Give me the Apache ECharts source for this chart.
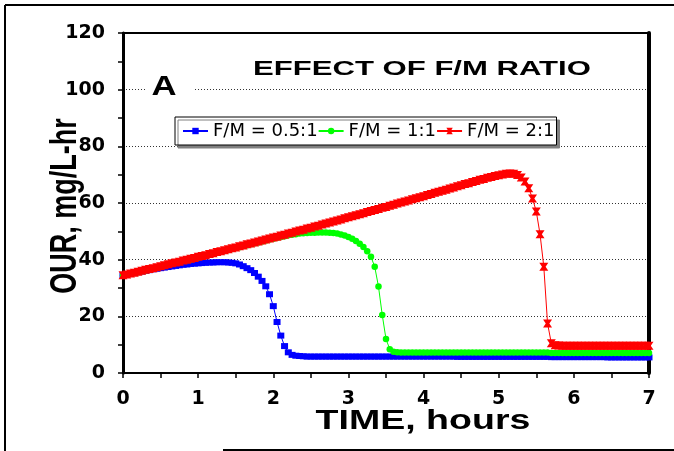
<!DOCTYPE html>
<html>
<head>
<meta charset="utf-8">
<script src="https://cdn.jsdelivr.net/npm/echarts@6/dist/echarts.min.js"></script>
<style>
  html, body { margin: 0; padding: 0; background: #fff; }
  #chart { width: 674px; height: 451px; }
</style>
</head>
<body>
<div id="chart"></div>
<script>
// tempo (horas)
const time = [
  0, 0.05, 0.1, 0.15, 0.2, 0.25, 0.3, 0.35, 0.4, 0.45, 0.5, 0.55, 0.6, 0.65, 0.7, 0.75, 0.8, 0.85, 0.9, 0.95,
  1, 1.05, 1.1, 1.15, 1.2, 1.25, 1.3, 1.35, 1.4, 1.45, 1.5, 1.55, 1.6, 1.65, 1.7, 1.75, 1.8, 1.85, 1.9, 1.95,
  2, 2.05, 2.1, 2.15, 2.2, 2.25, 2.3, 2.35, 2.4, 2.45, 2.5, 2.55, 2.6, 2.65, 2.7, 2.75, 2.8, 2.85, 2.9, 2.95,
  3, 3.05, 3.1, 3.15, 3.2, 3.25, 3.3, 3.35, 3.4, 3.45, 3.5, 3.55, 3.6, 3.65, 3.7, 3.75, 3.8, 3.85, 3.9, 3.95,
  4, 4.05, 4.1, 4.15, 4.2, 4.25, 4.3, 4.35, 4.4, 4.45, 4.5, 4.55, 4.6, 4.65, 4.7, 4.75, 4.8, 4.85, 4.9, 4.95,
  5, 5.05, 5.1, 5.15, 5.2, 5.25, 5.3, 5.35, 5.4, 5.45, 5.5, 5.55, 5.6, 5.65, 5.7, 5.75, 5.8, 5.85, 5.9, 5.95,
  6, 6.05, 6.1, 6.15, 6.2, 6.25, 6.3, 6.35, 6.4, 6.45, 6.5, 6.55, 6.6, 6.65, 6.7, 6.75, 6.8, 6.85, 6.9, 6.95,
  7
];

// OUR, F/M = 0.5:1
const fm05 = [
  34.5, 34.8, 35.0, 35.3, 35.6, 35.8, 36.1, 36.3, 36.6, 36.8, 37.0, 37.2, 37.4, 37.6, 37.8, 38.0, 38.2, 38.3, 38.5, 38.6,
  38.7, 38.8, 38.9, 39.0, 39.0, 39.1, 39.1, 39.1, 39.0, 38.9, 38.7, 38.3, 37.7, 37.0, 36.3, 35.3, 34.0, 32.5, 30.6, 27.8,
  23.6, 18.0, 13.2, 9.5, 7.3, 6.4, 6.1, 6.0, 5.9, 5.8, 5.8, 5.8, 5.8, 5.8, 5.8, 5.8, 5.8, 5.8, 5.8, 5.8,
  5.8, 5.8, 5.8, 5.8, 5.8, 5.8, 5.8, 5.8, 5.8, 5.8, 5.8, 5.8, 5.8, 5.8, 5.8, 5.8, 5.8, 5.8, 5.8, 5.8,
  5.8, 5.8, 5.8, 5.8, 5.8, 5.8, 5.8, 5.8, 5.8, 5.7, 5.7, 5.7, 5.7, 5.7, 5.7, 5.7, 5.7, 5.7, 5.7, 5.7,
  5.7, 5.7, 5.7, 5.7, 5.7, 5.7, 5.7, 5.7, 5.7, 5.7, 5.7, 5.7, 5.7, 5.7, 5.6, 5.6, 5.6, 5.6, 5.6, 5.6,
  5.6, 5.6, 5.6, 5.6, 5.6, 5.6, 5.6, 5.6, 5.6, 5.5, 5.5, 5.5, 5.5, 5.5, 5.5, 5.5, 5.5, 5.5, 5.5, 5.5,
  5.5
];

// OUR, F/M = 1:1
const fm1 = [
  34.5, 34.7, 35.0, 35.3, 35.6, 35.9, 36.2, 36.5, 36.9, 37.2, 37.5, 37.8, 38.2, 38.5, 38.8, 39.1, 39.5, 39.8, 40.1, 40.4,
  40.8, 41.1, 41.4, 41.8, 42.1, 42.4, 42.8, 43.1, 43.4, 43.8, 44.1, 44.4, 44.8, 45.1, 45.4, 45.8, 46.1, 46.4, 46.8, 47.1,
  47.4, 47.7, 48.0, 48.3, 48.6, 48.8, 49.0, 49.2, 49.3, 49.4, 49.5, 49.5, 49.6, 49.6, 49.6, 49.5, 49.4, 49.2, 48.9, 48.5,
  48.0, 47.4, 46.6, 45.6, 44.5, 43.0, 41.0, 37.5, 30.5, 20.5, 12.0, 8.4, 7.5, 7.3, 7.2, 7.2, 7.2, 7.2, 7.2, 7.2,
  7.2, 7.2, 7.2, 7.2, 7.2, 7.2, 7.2, 7.2, 7.2, 7.2, 7.2, 7.2, 7.2, 7.2, 7.2, 7.2, 7.2, 7.2, 7.2, 7.2,
  7.2, 7.2, 7.2, 7.2, 7.2, 7.2, 7.2, 7.2, 7.2, 7.2, 7.2, 7.2, 7.2, 7.2, 7.1, 7.1, 7.1, 7.1, 7.1, 7.1,
  7.1, 7.1, 7.1, 7.1, 7.1, 7.1, 7.1, 7.1, 7.1, 7.1, 7.1, 7.1, 7.1, 7.1, 7.1, 7.1, 7.1, 7.1, 7.1, 7.1,
  7.1
];

// OUR, F/M = 2:1
const fm2 = [
  34.5, 34.8, 35.1, 35.4, 35.7, 36.1, 36.4, 36.7, 37.0, 37.3, 37.7, 38.0, 38.4, 38.7, 39.0, 39.3, 39.7, 40.0, 40.3, 40.6,
  41.0, 41.3, 41.6, 42.0, 42.3, 42.7, 43.0, 43.3, 43.7, 44.0, 44.3, 44.7, 45.0, 45.4, 45.7, 46.1, 46.4, 46.8, 47.1, 47.5,
  47.8, 48.1, 48.5, 48.8, 49.2, 49.5, 49.9, 50.3, 50.6, 51.0, 51.3, 51.7, 52.0, 52.4, 52.8, 53.1, 53.5, 53.8, 54.2, 54.6,
  55.0, 55.3, 55.7, 56.0, 56.4, 56.8, 57.2, 57.5, 57.9, 58.3, 58.6, 59.0, 59.4, 59.8, 60.2, 60.5, 60.9, 61.3, 61.7, 62.0,
  62.4, 62.8, 63.2, 63.6, 64.0, 64.3, 64.7, 65.1, 65.5, 65.9, 66.3, 66.7, 67.0, 67.4, 67.8, 68.2, 68.5, 68.9, 69.2, 69.5,
  69.8, 70.1, 70.3, 70.4, 70.3, 69.9, 69.0, 67.6, 65.2, 61.6, 57.0, 49.0, 37.5, 17.5, 10.5, 9.8, 9.7, 9.6, 9.6, 9.6,
  9.6, 9.6, 9.6, 9.6, 9.6, 9.6, 9.6, 9.6, 9.6, 9.6, 9.6, 9.6, 9.6, 9.6, 9.6, 9.6, 9.6, 9.6, 9.6, 9.6,
  9.6
];

const nomes = ["F/M = 0.5:1", "F/M = 1:1", "F/M = 2:1"];
const cores = ["#0000ff", "#00ff00", "#ff0000"];

const chart = echarts.init(document.getElementById("chart"));

const eixoTexto = { fontFamily: "DejaVu Sans", fontWeight: "bold", fontSize: 19, color: "#000" };
const preto = { color: "#000", width: 1.5 };

function serie(nome, valores, cor, simbolo, tamanho) {
  return {
    name: nome,
    type: "line",
    data: time.map((t, i) => [t, valores[i]]),
    symbol: simbolo,
    symbolSize: tamanho,
    showAllSymbol: true,
    lineStyle: { color: cor, width: 1 },
    itemStyle: { color: cor },
    animation: false
  };
}

chart.setOption({
  animation: false,
  grid: { left: 123, top: 33, width: 526, height: 340 },
  legend: {
    left: 175, top: 117,
    itemWidth: 25, itemHeight: 8, itemGap: 0,
    padding: [5, 2, 5, 7],
    backgroundColor: "#fff",
    borderColor: "#000", borderWidth: 1,
    shadowColor: "#808080", shadowOffsetX: 3, shadowOffsetY: 3, shadowBlur: 0,
    textStyle: { fontFamily: "DejaVu Sans", fontSize: 18, color: "#000", width: 95 },
    data: [
      { name: nomes[0] },
      { name: nomes[1] },
      { name: nomes[2], textStyle: { width: 91, overflow: "truncate", ellipsis: "" } }
    ]
  },
  xAxis: [
    {
      type: "value", min: 0, max: 7, interval: 1,
      axisLine: { onZero: false, lineStyle: { color: "#000", width: 2 } },
      axisTick: { length: 5, lineStyle: preto },
      minorTick: { show: true, splitNumber: 2, length: 5, lineStyle: preto },
      splitLine: { show: false },
      axisLabel: Object.assign({ margin: 17 }, eixoTexto)
    },
    {
      type: "value", min: 0, max: 7, position: "top",
      axisLine: { onZero: false, lineStyle: { color: "#000", width: 2 } },
      axisTick: { show: false }, axisLabel: { show: false }, splitLine: { show: false }
    }
  ],
  yAxis: [
    {
      type: "value", min: 0, max: 120, interval: 20,
      axisLine: { show: true, onZero: false, lineStyle: { color: "#000", width: 3 } },
      axisTick: { show: true, length: 5, lineStyle: preto },
      minorTick: { show: true, splitNumber: 2, length: 5, lineStyle: preto },
      splitLine: { show: true, lineStyle: { color: "#333", width: 1, type: [1, 2] } },
      axisLabel: Object.assign({ margin: 18 }, eixoTexto)
    },
    {
      type: "value", min: 0, max: 120, position: "right",
      axisLine: { show: true, onZero: false, lineStyle: { color: "#000", width: 4 } },
      axisTick: { show: false }, axisLabel: { show: false }, splitLine: { show: false }
    }
  ],
  series: [
    serie(nomes[0], fm05, cores[0], "rect", [7, 6]),
    serie(nomes[1], fm1, cores[1], "circle", 6.5),
    serie(nomes[2], fm2, cores[2], "path://M0,0L10,0L7,4L10,8L0,8L3,4Z", [9, 8])
  ],
  graphic: [
    // moldura externa
    { type: "line", z: 10, shape: { x1: 5, y1: 5, x2: 674, y2: 5 }, style: { stroke: "#000", lineWidth: 2 } },
    { type: "line", z: 10, shape: { x1: 5, y1: 5, x2: 5, y2: 451 }, style: { stroke: "#000", lineWidth: 2 } },
    { type: "line", z: 10, shape: { x1: 223, y1: 450, x2: 674, y2: 450 }, style: { stroke: "#000", lineWidth: 2 } },
    // titulo
    {
      type: "text", z: 10, x: 422, y: 69, scaleX: 1.48,
      style: { text: "EFFECT OF F/M RATIO", font: 'bold 21px "Liberation Sans"', fill: "#000", align: "center", verticalAlign: "middle" }
    },
    { type: "rect", z: 9, shape: { x: 147, y: 76, width: 47, height: 22 }, style: { fill: "#fff" } },
    {
      type: "text", z: 10, x: 164, y: 87, scaleX: 1.24,
      style: { text: "A", font: 'bold 28px "Liberation Sans"', fill: "#000", align: "center", verticalAlign: "middle" }
    },
    // nomes dos eixos
    {
      type: "text", z: 10, x: 423, y: 422, scaleX: 1.39,
      style: { text: "TIME, hours", font: 'bold 27px "Liberation Sans"', fill: "#000", align: "center", verticalAlign: "middle" }
    },
    {
      type: "text", z: 10, x: 66, y: 206, rotation: Math.PI / 2, scaleY: 1.35,
      style: { text: "OUR, mg/L-hr", font: 'bold 27px "Liberation Sans"', fill: "#000", align: "center", verticalAlign: "middle" }
    }
  ]
});
</script>
</body>
</html>
